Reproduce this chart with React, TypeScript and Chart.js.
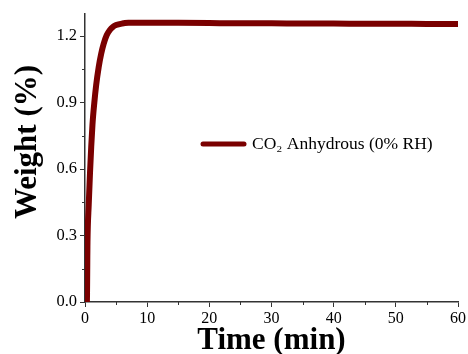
import React, { useEffect, useRef } from "react";
import { Chart, registerables } from "chart.js";

Chart.register(...registerables);

const times = [0, 0.3, 0.4, 0.6, 0.8, 1.0, 1.2, 1.5, 1.8, 2.2, 2.6, 3.0, 3.5, 4, 4.5, 5, 6, 7, 8, 10, 15, 20, 25, 30, 35, 40, 45, 50, 55, 60];
const weights = [0, 0, 0.27, 0.44, 0.58, 0.7, 0.8, 0.9, 0.98, 1.06, 1.12, 1.165, 1.205, 1.228, 1.242, 1.25, 1.257, 1.26, 1.261, 1.261, 1.26, 1.259, 1.258, 1.258, 1.257, 1.257, 1.256, 1.256, 1.255, 1.255];
const seriesLabel = "CO\u2082 Anhydrous (0% RH)";
const xTitle = "Time (min)";
const yTitle = "Weight (%)";
const xMinorTicks = [5, 15, 25, 35, 45, 55];
const yMinorTicks = [0.15, 0.45, 0.75, 1.05];

const LINE_COLOR = "#7a0000";
const SERIF = "'Liberation Serif', 'Times New Roman', serif";

const overlayPlugin = {
  id: "overlay",
  afterDraw(chart: any) {
    const ctx = chart.ctx;
    const xs = chart.scales.x;
    const ys = chart.scales.y;
    const area = chart.chartArea;
    ctx.save();
    ctx.strokeStyle = "#333";
    ctx.lineWidth = 1;
    ctx.beginPath();
    for (const v of xMinorTicks) {
      const px = Math.round(xs.getPixelForValue(v)) + 0.5;
      ctx.moveTo(px, area.bottom);
      ctx.lineTo(px, area.bottom + 3);
    }
    for (const v of yMinorTicks) {
      const py = Math.round(ys.getPixelForValue(v)) + 0.5;
      ctx.moveTo(area.left, py);
      ctx.lineTo(area.left - 3, py);
    }
    ctx.stroke();
    ctx.fillStyle = "#000";
    // y title
    ctx.save();
    ctx.translate(28, 142);
    ctx.rotate(-Math.PI / 2);
    ctx.font = `bold 31px ${SERIF}`;
    ctx.textAlign = "center";
    ctx.textBaseline = "middle";
    ctx.fillText(yTitle, 0, 0);
    ctx.restore();
    // x title
    ctx.font = `bold 31px ${SERIF}`;
    ctx.textAlign = "center";
    ctx.textBaseline = "alphabetic";
    ctx.fillText(xTitle, (area.left + area.right) / 2, 349);
    // legend
    const lx = 203;
    const ly = 144;
    ctx.strokeStyle = LINE_COLOR;
    ctx.lineWidth = 5;
    ctx.lineCap = "round";
    ctx.beginPath();
    ctx.moveTo(lx, ly);
    ctx.lineTo(lx + 41, ly);
    ctx.stroke();
    ctx.font = `17.5px ${SERIF}`;
    ctx.textAlign = "left";
    ctx.textBaseline = "middle";
    ctx.fillText(chart.data.datasets[0].label, 252, ly);
    ctx.restore();
  },
};

export default function App() {
  const ref = useRef<HTMLCanvasElement | null>(null);
  useEffect(() => {
    document.body.style.margin = "0";
    const canvas = ref.current!;
    const chart = new Chart(canvas, {
      type: "line",
      data: {
        datasets: [
          {
            label: seriesLabel,
            data: times.map((t, i) => ({ x: t, y: weights[i] })),
            borderColor: LINE_COLOR,
            borderWidth: 6,
            pointRadius: 0,
            cubicInterpolationMode: "monotone",
            fill: false,
          },
        ],
      },
      options: {
        animation: false,
        responsive: false,
        maintainAspectRatio: false,
        layout: { padding: { top: 14, right: 10, left: 0, bottom: 0 } },
        plugins: { legend: { display: false }, tooltip: { enabled: false } },
        scales: {
          x: {
            type: "linear",
            min: 0,
            max: 60,
            ticks: {
              stepSize: 10,
              color: "#000",
              font: { family: SERIF, size: 16 },
              padding: 2,
              maxRotation: 0,
            },
            grid: { drawOnChartArea: false, tickLength: 5, color: "#333" },
            border: { color: "#333", width: 1.5 },
            afterFit(scale: any) {
              scale.height = 52;
            },
          },
          y: {
            min: 0,
            max: 1.3,
            afterBuildTicks(scale: any) {
              scale.ticks = [0, 0.3, 0.6, 0.9, 1.2].map((v) => ({ value: v }));
            },
            ticks: {
              color: "#000",
              font: { family: SERIF, size: 16.5 },
              padding: 3,
              callback: (v: any) => Number(v).toFixed(1),
            },
            grid: { drawOnChartArea: false, tickLength: 5, color: "#333" },
            border: { color: "#333", width: 1.5 },
            afterFit(scale: any) {
              scale.width = 85;
            },
          },
        },
      },
      plugins: [overlayPlugin],
    });
    return () => chart.destroy();
  }, []);
  return <canvas ref={ref} width={468} height={354} style={{ display: "block" }} />;
}
